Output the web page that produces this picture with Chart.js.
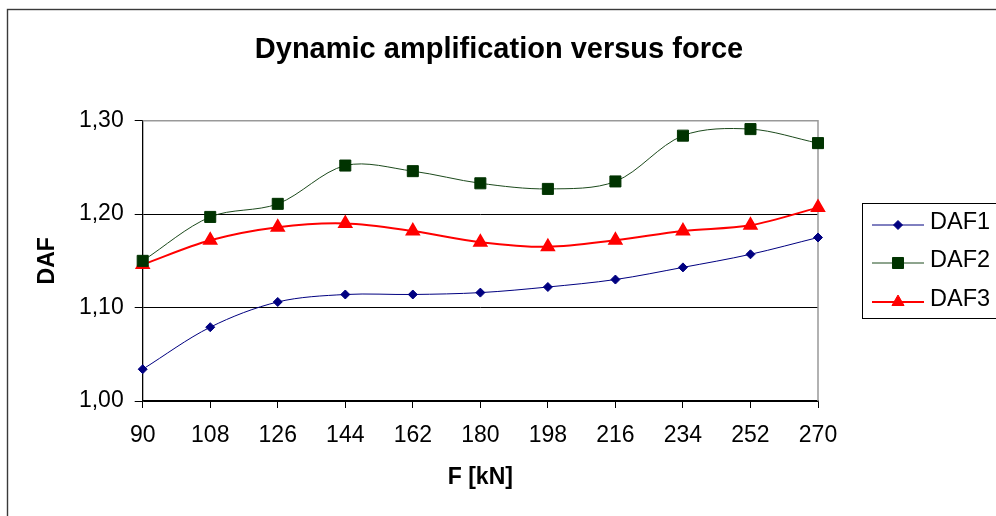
<!DOCTYPE html>
<html>
<head>
<meta charset="utf-8">
<style>
  html, body { margin: 0; padding: 0; background: #fff; }
  #wrap { width: 996px; height: 516px; position: relative; }
</style>
<script src="https://cdn.jsdelivr.net/npm/chart.js@4/dist/chart.umd.min.js"></script>
</head>
<body>
<div id="wrap"><canvas id="c" width="996" height="516"></canvas></div>
<script>
// Force levels on the horizontal axis
const forces = ['90', '108', '126', '144', '162', '180', '198', '216', '234', '252', '270'];

// Dynamic amplification factors per series
const daf1 = [1.034, 1.079, 1.106, 1.114, 1.114, 1.116, 1.122, 1.130, 1.143, 1.157, 1.175];
const daf2 = [1.150, 1.197, 1.211, 1.252, 1.246, 1.233, 1.227, 1.235, 1.284, 1.291, 1.276];
const daf3 = [1.146, 1.172, 1.186, 1.190, 1.182, 1.170, 1.165, 1.172, 1.182, 1.188, 1.207];

// Value axis tick labels (decimal comma)
const yTickValues = [1.00, 1.10, 1.20, 1.30];
const yTickLabels = ['1,00', '1,10', '1,20', '1,30'];

const seriesNames = ['DAF1', 'DAF2', 'DAF3'];

const FONT = '"Liberation Sans", Arial, Helvetica, sans-serif';

// Chart frame, plot border and title
const framePlugin = {
  id: 'frame',
  beforeDraw(chart) {
    const ctx = chart.ctx;
    ctx.save();
    ctx.fillStyle = '#fff';
    ctx.fillRect(0, 0, chart.width, chart.height);
    ctx.strokeStyle = '#3a3a3a';
    ctx.lineWidth = 1.4;
    ctx.strokeRect(7.5, 9.5, 1200, 1200);
    ctx.fillStyle = '#000';
    ctx.font = 'bold 29px ' + FONT;
    ctx.textAlign = 'center';
    ctx.textBaseline = 'alphabetic';
    ctx.fillText('Dynamic amplification versus force', 499, 58);
    ctx.restore();
  },
  beforeDatasetsDraw(chart) {
    const { ctx, chartArea: a } = chart;
    ctx.save();
    ctx.strokeStyle = '#999';
    ctx.lineWidth = 1.5;
    ctx.beginPath();
    ctx.moveTo(a.left, a.top);
    ctx.lineTo(a.right, a.top);
    ctx.lineTo(a.right, a.bottom);
    ctx.stroke();
    ctx.restore();
  }
};

// Boxed legend on the right
const legendBoxPlugin = {
  id: 'legendBox',
  afterDraw(chart) {
    const ctx = chart.ctx;
    const rows = [
      { markY: 225, textY: 229 },
      { markY: 263, textY: 267 },
      { markY: 302, textY: 306 }
    ];
    ctx.save();
    ctx.strokeStyle = '#000';
    ctx.lineWidth = 1;
    ctx.strokeRect(862.5, 203.5, 200, 115);
    chart.data.datasets.forEach((ds, i) => {
      const r = rows[i];
      ctx.strokeStyle = ds.borderColor;
      ctx.lineWidth = ds.borderWidth;
      ctx.beginPath();
      ctx.moveTo(872, r.markY);
      ctx.lineTo(924, r.markY);
      ctx.stroke();
      ctx.fillStyle = ds.pointBackgroundColor;
      ctx.strokeStyle = ds.pointBorderColor;
      ctx.lineWidth = 1;
      Chart.helpers.drawPoint(ctx, {
        pointStyle: ds.pointStyle,
        radius: ds.pointRadius,
        rotation: 0,
        borderWidth: 1
      }, 898, r.markY);
      ctx.fillStyle = '#000';
      ctx.font = '23.5px ' + FONT;
      ctx.textAlign = 'left';
      ctx.textBaseline = 'alphabetic';
      ctx.fillText(ds.label, 930, r.textY);
    });
    ctx.restore();
  }
};

const TENSION = 0.33;

new Chart(document.getElementById('c'), {
  type: 'line',
  data: {
    labels: forces,
    datasets: [
      {
        label: seriesNames[0],
        data: daf1,
        borderColor: '#000080',
        borderWidth: 1,
        pointStyle: 'rectRot',
        pointRadius: 4.5,
        pointBackgroundColor: '#000080',
        pointBorderColor: '#000080',
        tension: TENSION
      },
      {
        label: seriesNames[1],
        data: daf2,
        borderColor: '#1c4a1c',
        borderWidth: 1,
        pointStyle: 'rect',
        pointRadius: 7.8,
        pointBackgroundColor: '#003300',
        pointBorderColor: '#003300',
        tension: TENSION
      },
      {
        label: seriesNames[2],
        data: daf3,
        borderColor: '#ff0000',
        borderWidth: 2,
        pointStyle: 'triangle',
        pointRadius: 7,
        pointBackgroundColor: '#ff0000',
        pointBorderColor: '#ff0000',
        tension: TENSION
      }
    ]
  },
  options: {
    responsive: false,
    animation: false,
    devicePixelRatio: 1,
    layout: { padding: { top: 120.7, left: 8, right: 178, bottom: 0 } },
    plugins: {
      legend: { display: false },
      title: { display: false },
      tooltip: { enabled: false }
    },
    elements: { line: { capBezierPoints: false } },
    scales: {
      x: {
        type: 'category',
        offset: false,
        grid: {
          drawOnChartArea: false,
          color: '#000',
          tickLength: 7
        },
        border: { color: '#000', width: 1.3 },
        ticks: {
          color: '#000',
          font: { family: FONT, size: 23 },
          padding: 14,
          maxRotation: 0,
          autoSkip: false
        },
        title: {
          display: true,
          text: 'F [kN]',
          color: '#000',
          font: { family: FONT, size: 23, weight: 'bold' },
          padding: { top: 0, bottom: 25 }
        },
        afterFit(scale) { scale.height = 115; }
      },
      y: {
        min: 1.0,
        max: 1.3,
        afterBuildTicks(scale) {
          scale.ticks = yTickValues.map(v => ({ value: v }));
        },
        grid: {
          color: (c) => (c.tick && c.tick.value > 1.29 ? 'rgba(0,0,0,0)' : '#000'),
          tickColor: '#000',
          tickLength: 8,
          lineWidth: 1
        },
        border: { color: '#000', width: 1.3 },
        ticks: {
          color: '#000',
          font: { family: FONT, size: 23 },
          padding: 11,
          callback: (v, i) => yTickLabels[i]
        },
        title: {
          display: true,
          text: 'DAF',
          color: '#000',
          font: { family: FONT, size: 23, weight: 'bold' },
          padding: { top: 26, bottom: 0 }
        },
        afterFit(scale) { scale.width = 134.7; }
      }
    }
  },
  plugins: [framePlugin, legendBoxPlugin]
});
</script>
</body>
</html>
